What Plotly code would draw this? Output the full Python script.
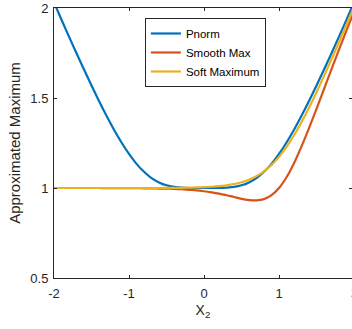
import plotly.graph_objects as go

x2 = [-2.0, -1.9, -1.8, -1.7, -1.6, -1.5, -1.4, -1.3, -1.2, -1.1, -1.0,
      -0.9, -0.8, -0.7, -0.6, -0.5, -0.4, -0.3, -0.2, -0.1, 0.0,
      0.1, 0.2, 0.3, 0.4, 0.5, 0.6, 0.7, 0.8, 0.9, 1.0,
      1.1, 1.2, 1.3, 1.4, 1.5, 1.6, 1.7, 1.8, 1.9, 2.0]

pnorm = [2.031, 1.935, 1.841, 1.749, 1.658, 1.569, 1.483, 1.401, 1.324, 1.253, 1.189,
         1.134, 1.090, 1.055, 1.031, 1.015, 1.006, 1.002, 1.000, 1.000, 1.000,
         1.000, 1.000, 1.002, 1.006, 1.015, 1.031, 1.055, 1.090, 1.134, 1.189,
         1.253, 1.324, 1.401, 1.483, 1.569, 1.658, 1.749, 1.841, 1.935, 2.031]

smooth_max = [1.000, 1.000, 1.000, 1.000, 1.000, 1.000, 1.000, 0.999, 0.999, 0.999, 0.999,
              0.999, 0.998, 0.998, 0.997, 0.996, 0.995, 0.993, 0.990, 0.987, 0.982,
              0.976, 0.969, 0.960, 0.950, 0.940, 0.933, 0.931, 0.938, 0.960, 1.000,
              1.060, 1.138, 1.231, 1.333, 1.440, 1.550, 1.660, 1.769, 1.876, 1.982]

soft_max = [1.000, 1.000, 1.000, 1.000, 1.000, 1.000, 1.000, 1.000, 1.000, 1.000, 1.000,
            1.000, 1.000, 1.000, 1.000, 1.001, 1.001, 1.001, 1.002, 1.003, 1.005,
            1.007, 1.010, 1.015, 1.022, 1.032, 1.046, 1.066, 1.093, 1.128, 1.173,
            1.228, 1.293, 1.366, 1.446, 1.532, 1.622, 1.715, 1.810, 1.907, 2.005]

series_names = ["Pnorm", "Smooth Max", "Soft Maximum"]
series_colors = ["#0072BD", "#D95319", "#EDB120"]

x_ticks = [-2, -1, 0, 1]
y_ticks = [0.5, 1, 1.5, 2]
x_min, x_max = -2, 1.973

fig = go.Figure()
for name, vals, col in zip(series_names, [pnorm, smooth_max, soft_max], series_colors):
    fig.add_trace(go.Scatter(x=x2, y=vals, mode="lines", name=name,
                             line=dict(color=col, width=2.2, shape="spline")))

axis_col = "#262626"
font_family = "Liberation Sans, Arial, sans-serif"

fig.update_layout(
    width=352, height=329,
    margin=dict(l=54, r=0, t=8, b=51, autoexpand=False),
    paper_bgcolor="white", plot_bgcolor="white",
    font=dict(family=font_family, size=13, color=axis_col),
    showlegend=True,
    legend=dict(x=0.305, y=0.963, xanchor="left", yanchor="top",
                bgcolor="white", bordercolor=axis_col, borderwidth=1,
                font=dict(size=11.5, color="black"),
                tracegroupgap=0, itemwidth=30),
    xaxis=dict(range=[x_min, x_max], tickvals=x_ticks, ticktext=[str(v) for v in x_ticks],
               ticks="inside", ticklen=3, tickcolor=axis_col, ticklabelstandoff=3,
               showline=True, linecolor=axis_col, linewidth=1, mirror="ticks",
               showgrid=False, zeroline=False, automargin=False,
               title=dict(text="X<sub>2</sub>", font=dict(size=14), standoff=5)),
    yaxis=dict(range=[0.5, 2], tickvals=y_ticks, ticktext=["0.5", "1", "1.5", "2"],
               ticks="inside", ticklen=3, tickcolor=axis_col, ticklabelstandoff=2,
               showline=True, linecolor=axis_col, linewidth=1, mirror="ticks",
               showgrid=False, zeroline=False, automargin=False,
               title=dict(text="Approximated Maximum", font=dict(size=15), standoff=6)),
)

# last x tick label "2" sits just past the visible right edge (partly clipped)
fig.add_annotation(x=(2 - x_min) / (x_max - x_min), y=0, xref="paper", yref="paper",
                   xanchor="center", yanchor="top", yshift=-5,
                   text="2", showarrow=False, font=dict(size=13, color=axis_col))

fig.write_html("out.html", config={"displayModeBar": False},
               post_script="document.body.style.margin='0';document.body.style.overflow='hidden';")
